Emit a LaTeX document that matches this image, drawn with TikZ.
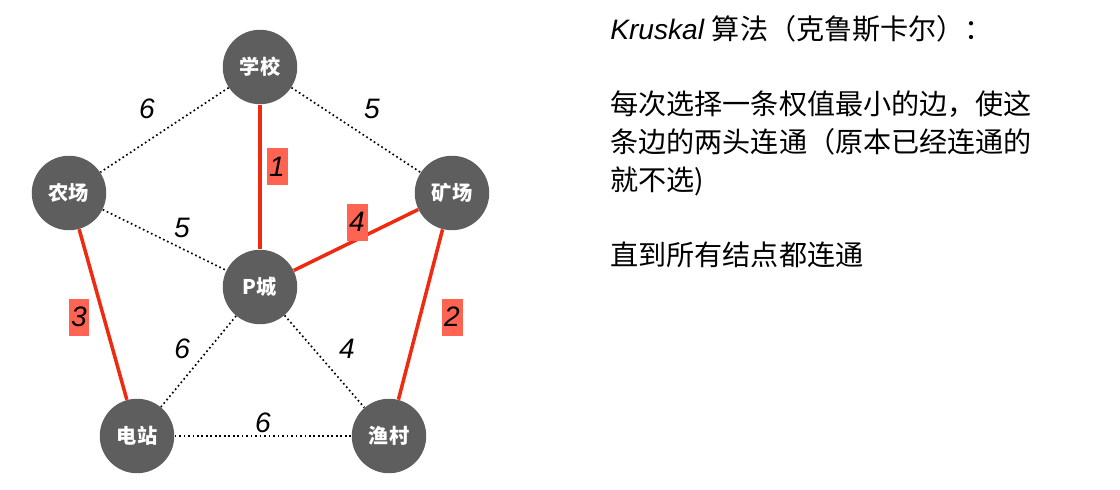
\documentclass[tikz,border=0pt]{standalone}
\usepackage{fontspec}
\setmainfont{Liberation Sans}
\newfontfamily\cjk{Noto Sans CJK SC}
\usetikzlibrary{positioning}
\definecolor{towngray}{HTML}{5E5E5E}
\definecolor{pickred}{HTML}{EE2A10}
\definecolor{boxred}{HTML}{FF6452}

\begin{document}
\begin{tikzpicture}[x=0.02cm,y=0.02cm,
    town/.style={circle,fill=towngray,text=white,minimum size=1.49cm,inner sep=0pt,
      font=\cjk\bfseries\fontsize{11.5}{12}\selectfont},
    picked/.style={draw=pickred,line width=2pt},
    spare/.style={draw=black,line width=0.95pt,dash pattern=on 0.95pt off 1.6pt},
    wt/.style={font=\itshape\fontsize{16}{16}\selectfont,inner sep=0pt},
    wbox/.style={wt,fill=boxred,minimum width=0.42cm,minimum height=0.74cm},
    txt/.style={anchor=base west,inner sep=0pt,font=\fontsize{16}{21.5}\selectfont}]
		\useasboundingbox (0,0) rectangle (1120,490);

		\node[town] (school) at (260,423) {学校};
		\node[town] (farm)   at (69,297)  {农场};
		\node[town] (mine)   at (452,297) {矿场};
		\node[town] (pcity)  at (260,203) {P城};
		\node[town] (power)  at (137,54)  {电站};
		\node[town] (fish)   at (389,54)  {渔村};

		\path
    (school) edge [spare]  node[wt,shift={(-17.5,20.7)}]  {6} (farm)
             edge [spare]  node[wt,shift={(16,20.7)}]     {5} (mine)
             edge [picked] node[wbox,shift={(17,10)}]     {1} (pcity)
		(farm)   edge [spare]  node[wt,shift={(17.5,11.7)}]   {5} (pcity)
             edge [picked] node[wbox,shift={(-24,-2.6)}]  {3} (power)
		(mine)   edge [picked] node[wbox,shift={(1,17.7)}]    {4} (pcity)
             edge [picked] node[wbox,shift={(31.5,-2.6)}] {2} (fish)
		(pcity)  edge [spare]  node[wt,shift={(-16.4,12.4)}]  {6} (power)
             edge [spare]  node[wt,shift={(22.5,12.4)}]   {4} (fish)
		(power)  edge [spare]  node[wt,shift={(0,13)}]        {6} (fish);

		% explanation on the right
		\node[txt] (title) at (610,450) {\itshape Kruskal\upshape\ \cjk 算法（克鲁斯卡尔）：};
		\node[txt] (rule1) at (610,375) {\cjk 每次选择一条权值最小的边，使这};
		\node[txt] (rule2) at (610,337) {\cjk 条边的两头连通（原本已经连通的};
		\node[txt] (rule3) at (610,299) {\cjk 就不选)};
		\node[txt] (stop)  at (610,224) {\cjk 直到所有结点都连通};

	\end{tikzpicture}
\end{document}
